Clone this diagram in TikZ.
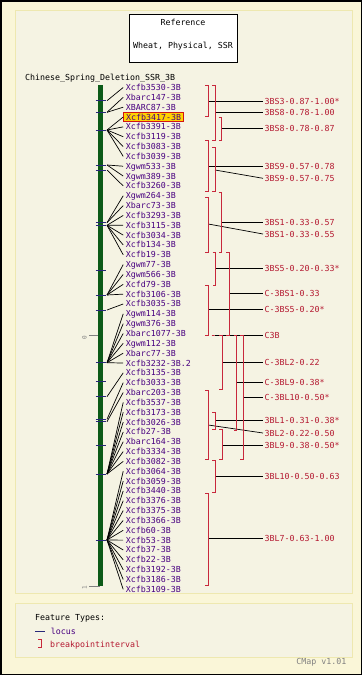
\documentclass[tikz,border=0pt]{standalone}
\usepackage{fontspec}
\newfontfamily\pix{DejaVu Sans Mono}
\definecolor{bgout}{RGB}{250,246,216}
\definecolor{bgpanel}{RGB}{245,243,227}
\definecolor{panelborder}{RGB}{238,232,176}
\definecolor{mkcol}{RGB}{72,0,128}
\definecolor{brkcol}{RGB}{200,40,60}
\definecolor{blabcol}{RGB}{180,24,48}
\definecolor{navy}{RGB}{40,40,120}
\definecolor{chromo}{RGB}{12,90,24}
\definecolor{hlfill}{RGB}{255,210,0}
\definecolor{hlred}{RGB}{210,20,20}
\tikzset{
  pixfont/.style={font=\pix\fontsize{8.3}{9}\selectfont},
  mk/.style={pixfont, anchor=west, inner xsep=2.5pt, inner ysep=1.8pt, text height=6pt, text depth=0pt, text=mkcol},
  mkhl/.style={mk, fill=hlfill, draw=hlred, line width=0.8pt},
  blab/.style={pixfont, anchor=west, inner xsep=1.5pt, inner ysep=0pt, text height=6pt, text depth=0pt, text=blabcol},
  plain/.style={pixfont, inner sep=0pt, text height=6pt, text depth=0pt},
  conn/.style={black, line width=0.7pt},
  tickl/.style={navy, line width=0.9pt},
  brk/.style={brkcol, line width=0.9pt},
  panel/.style={fill=bgpanel, draw=panelborder, line width=1pt}
}
\begin{document}
\begin{tikzpicture}[x=1pt,y=-1pt]
\useasboundingbox (0,0) rectangle (362,675);
% background
\fill[bgout] (0,0) rectangle (362,675);
\draw[panel] (15,10) rectangle (352,593);
\draw[panel] (15,603) rectangle (352,657);
\draw[black, line width=1.5pt] (0.75,0.75) rectangle (361.25,674.25);

% title box
\node[draw=black, fill=white, line width=0.8pt, minimum width=108pt, minimum height=48pt, inner sep=0pt] (titlebox) at (183,38.3) {};
\node[plain] (title1) at (183,22.3) {Reference};
\node[plain] (title2) at (183,45.7) {Wheat, Physical, SSR};

\node[plain, anchor=west] (mapname) at (25,77.3) {Chinese\_Spring\_Deletion\_SSR\_3B};

% chromosome
\fill[chromo] (98,85) rectangle (103,586);
\draw[gray, line width=0.8pt] (89,335) -- (98,335);
\draw[gray, line width=0.8pt] (89,586) -- (100,586);
\node[plain, rotate=90, text=gray, font=\pix\fontsize{6}{6}\selectfont] (s0) at (83.5,338) {0};
\node[plain, rotate=90, text=gray, font=\pix\fontsize{6}{6}\selectfont] (s1) at (83.5,588) {1};

% ticks
\foreach \k/\y in {1/100.7,2/112.3,3/130,4/165,5/170,6/222.7,7/225.3,8/270.7,9/295,10/310,11/362.7,12/381.7,13/396.7,14/419.3,15/421.7,16/445,17/474,18/540}{
  \draw[tickl] (95.5,\y) -- (106,\y);
  \coordinate (t\k) at (107,\y);
}

% markers
\foreach \i/\nm/\t/\s in {
 0/Xcfb3530-3B/t1/mk, 1/Xbarc147-3B/t2/mk, 2/XBARC87-3B/t2/mk, 3/Xcfb3417-3B/t3/mkhl,
 4/Xcfb3391-3B/t3/mk, 5/Xcfb3119-3B/t3/mk, 6/Xcfb3083-3B/t3/mk, 7/Xcfb3039-3B/t3/mk,
 8/Xgwm533-3B/t4/mk, 9/Xgwm389-3B/t4/mk, 10/Xcfb3260-3B/t5/mk, 11/Xgwm264-3B/t6/mk,
 12/Xbarc73-3B/t6/mk, 13/Xcfb3293-3B/t7/mk, 14/Xcfb3115-3B/t7/mk, 15/Xcfb3034-3B/t7/mk,
 16/Xcfb134-3B/t7/mk, 17/Xcfb19-3B/t7/mk, 18/Xgwm77-3B/t9/mk, 19/Xgwm566-3B/t9/mk,
 20/Xcfd79-3B/t9/mk, 21/Xcfb3106-3B/t9/mk, 22/Xcfb3035-3B/t10/mk, 23/Xgwm114-3B/t11/mk,
 24/Xgwm376-3B/t11/mk, 25/Xbarc1077-3B/t11/mk, 26/Xgwm112-3B/t11/mk, 27/Xbarc77-3B/t11/mk,
 28/Xcfb3232-3B.2/t11/mk, 29/Xcfb3135-3B/t13/mk, 30/Xcfb3033-3B/t14/mk, 31/Xbarc203-3B/t15/mk,
 32/Xcfb3537-3B/t17/mk, 33/Xcfb3173-3B/t17/mk, 34/Xcfb3026-3B/t17/mk, 35/Xcfb27-3B/t17/mk,
 36/Xbarc164-3B/t17/mk, 37/Xcfb3334-3B/t17/mk, 38/Xcfb3082-3B/t17/mk, 39/Xcfb3064-3B/t18/mk,
 40/Xcfb3059-3B/t18/mk, 41/Xcfb3440-3B/t18/mk, 42/Xcfb3376-3B/t18/mk, 43/Xcfb3375-3B/t18/mk,
 44/Xcfb3366-3B/t18/mk, 45/Xcfb60-3B/t18/mk, 46/Xcfb53-3B/t18/mk, 47/Xcfb37-3B/t18/mk,
 48/Xcfb22-3B/t18/mk, 49/Xcfb3192-3B/t18/mk, 50/Xcfb3186-3B/t18/mk, 51/Xcfb3109-3B/t18/mk}{
  \node[\s] (m\i) at (123.2,{87.5+9.84*\i}) {\nm};
  \draw[conn] (\t) -- (m\i.west);
}

% breakpoint intervals
\foreach \n/\x/\ya/\yb/\yc/\ly/\txt in {
 1/208.3/85/116.7/101.3/101.3/3BS3-0.87-1.00*,
 2/215/85/140.7/112.3/112.3/3BS8-0.78-1.00,
 3/221.7/117.3/140.7/128.3/128.3/3BS8-0.78-0.87,
 4/208.3/140.7/191.7/166/166/3BS9-0.57-0.78,
 5/215/147.3/191.7/170/178.3/3BS9-0.57-0.75,
 6/208.3/197.3/252.3/224/234/3BS1-0.33-0.55,
 7/221.7/192.7/252.3/222.3/222.3/3BS1-0.33-0.57,
 8/215.5/252.3/285/268.3/268.3/3BS5-0.20-0.33*,
 9/229/252.3/335/293.3/293.3/C-3BS1-0.33,
 10/208.3/285/335/309.5/309.5/C-3BS5-0.20*,
 11/214.7/335.3/335.3/335.3/335.3/C3B,
 12/222.3/335/389.3/362.3/362.3/C-3BL2-0.22,
 13/236.7/335/430/382.3/382.3/C-3BL9-0.38*,
 14/243.3/335/459/397.3/397.3/C-3BL10-0.50*,
 15/208.3/390.7/459/425/433/3BL2-0.22-0.50,
 16/215/412/429.5/420.7/420.7/3BL1-0.31-0.38*,
 17/222.3/429.3/459/445/445/3BL9-0.38-0.50*,
 18/215/460.7/492.7/476/476/3BL10-0.50-0.63,
 19/208.3/493.3/585/538.3/538.3/3BL7-0.63-1.00}{
  \node[blab] (b\n) at (263,\ly) {\txt};
  \coordinate (c\n) at (\x,\yc);
  \draw[conn] (c\n) -- (b\n.west);
}
\foreach \x/\ya/\yb in {208.3/85/116.7, 215/85/140.7, 221.7/117.3/140.7, 208.3/140.7/191.7,
 215/147.3/191.7, 208.3/197.3/252.3, 221.7/192.7/252.3, 215.5/252.3/285, 229/252.3/335,
 208.3/285/335, 214.7/335.3/335.3, 222.3/335/389.3, 236.7/335/430, 243.3/335/459,
 208.3/390.7/459, 215/412/429.5, 222.3/429.3/459, 215/460.7/492.7, 208.3/493.3/585}{
  \draw[brk] (\x-3,\ya) -- (\x,\ya) -- (\x,\yb) -- (\x-3,\yb);
}

% legend
\node[plain, anchor=west, text=black] (ftypes) at (35,617) {Feature Types:};
\draw[navy, line width=1pt] (35,631.5) -- (45,631.5);
\node[plain, anchor=west, text=mkcol] (lglocus) at (50.7,631.5) {locus};
\draw[brk] (38,639.5) -- (41.5,639.5) -- (41.5,647.5) -- (38,647.5);
\node[plain, anchor=west, text=blabcol] (lgbrk) at (50,644) {breakpointinterval};
\node[plain, anchor=east, text=gray] (cmap) at (346.5,661.5) {CMap v1.01};
\end{tikzpicture}
\end{document}
